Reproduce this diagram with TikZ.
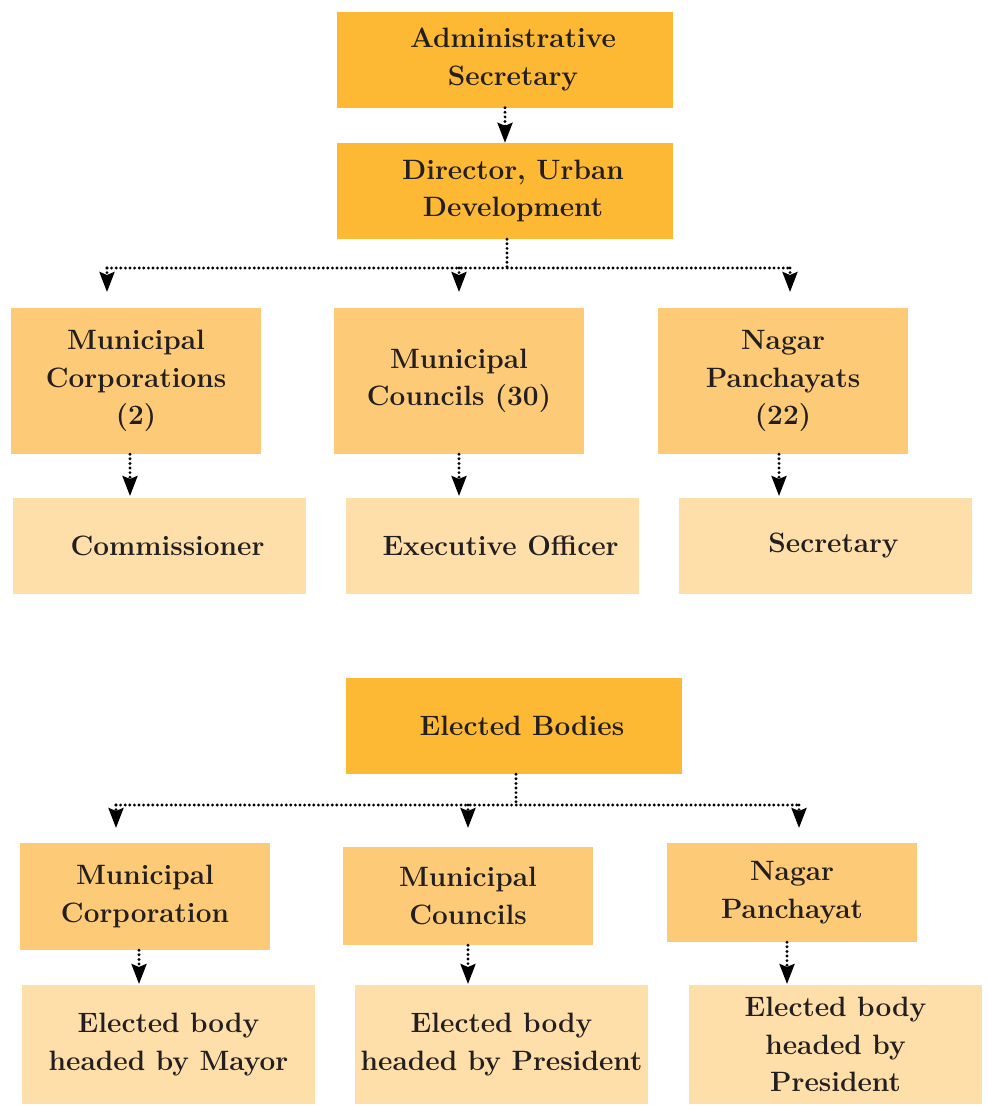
\documentclass[tikz,border=0pt]{standalone}
\usetikzlibrary{arrows.meta}
\definecolor{darkbox}{HTML}{FDB933}
\definecolor{midbox}{HTML}{FDCB77}
\definecolor{lightbox}{HTML}{FEDFAA}
\definecolor{inktext}{HTML}{231F20}
\newcommand{\sh}{\hspace*{16pt}}
\begin{document}
\begin{tikzpicture}[
        x=1pt, y=-1pt,
        box/.style={inner sep=0pt, align=center, text=inktext,
            font=\fontsize{28}{37.5}\selectfont\bfseries},
        topbox/.style={box, fill=darkbox, minimum width=336pt, minimum height=96pt},
        unitbox/.style={box, fill=midbox, minimum width=250pt},
        headbox/.style={box, fill=lightbox, minimum width=293pt},
        dots/.style={line width=3.2pt, line cap=round, dash pattern=on 0pt off 4.6pt},
        arr/.style={dots, -{Stealth[length=20pt, width=15pt, inset=3pt]}},
    ]
    \useasboundingbox (0,0) rectangle (988,1106);
    % upper chart
    \node[topbox] (admin) at (505,59.5) {\sh Administrative\\\sh Secretary};
    \node[topbox] (dir) at (505,191) {\sh Director, Urban\\\sh Development};
    \node[unitbox, minimum height=146pt] (mcorp) at (136,381) {Municipal\\Corporations\\(2)};
    \node[unitbox, minimum height=146pt] (mcoun) at (459,381) {Municipal\\Councils (30)};
    \node[unitbox, minimum height=146pt] (npan) at (783,381) {Nagar\\Panchayats\\(22)};
    \node[headbox, minimum height=96pt] (comm) at (159.5,546) {\sh Commissioner};
    \node[headbox, minimum height=96pt] (exec) at (492.5,546) {\sh Executive Officer};
    \node[headbox, minimum height=96pt] (secy) at (825.5,546) {\sh Secretary};
    \coordinate (busA) at (507,268);
    \coordinate (ta1) at (107,292);
    \coordinate (ta2) at (459,292);
    \coordinate (ta3) at (790,292);
    \coordinate (tb1) at (130,496);
    \coordinate (tb2) at (459,496);
    \coordinate (tb3) at (779,496);
    \draw[arr] (admin.south) -- (dir.north);
    \draw[dots] (busA |- dir.south) -- (busA);
    \draw[dots] (ta1 |- busA) -- (ta3 |- busA);
    \foreach \t in {ta1,ta2,ta3}
        \draw[arr] (\t |- busA) -- (\t);
    \draw[arr] (tb1 |- mcorp.south) -- (tb1);
    \draw[arr] (tb2 |- mcoun.south) -- (tb2);
    \draw[arr] (tb3 |- npan.south) -- (tb3);
    % lower chart
    \node[topbox] (elect) at (514,726) {\sh Elected Bodies};
    \node[unitbox, minimum height=107pt] (ecorp) at (145,896.5) {Municipal\\Corporation};
    \node[unitbox, minimum height=98pt] (ecoun) at (468,896) {Municipal\\Councils};
    \node[unitbox, minimum height=99pt] (epan) at (792,892.5) {Nagar\\Panchayat};
    \node[headbox, minimum height=119pt] (emayor) at (168.5,1044.5) {Elected body\\headed by Mayor};
    \node[headbox, minimum height=119pt] (epres) at (501.5,1044.5) {Elected body\\headed by President};
    \node[headbox, minimum height=119pt] (epres2) at (835.5,1044.5) {Elected body\\headed by\\President};
    \coordinate (busB) at (516,805);
    \coordinate (tc1) at (116,828);
    \coordinate (tc2) at (468,828);
    \coordinate (tc3) at (799,828);
    \coordinate (td1) at (139,984);
    \coordinate (td2) at (468,984);
    \coordinate (td3) at (787,984);
    \draw[dots] (busB |- elect.south) -- (busB);
    \draw[dots] (tc1 |- busB) -- (tc3 |- busB);
    \foreach \t in {tc1,tc2,tc3}
        \draw[arr] (\t |- busB) -- (\t);
    \draw[arr] (td1 |- ecorp.south) -- (td1);
    \draw[arr] (td2 |- ecoun.south) -- (td2);
    \draw[arr] (td3 |- epan.south) -- (td3);
\end{tikzpicture}
\end{document}
